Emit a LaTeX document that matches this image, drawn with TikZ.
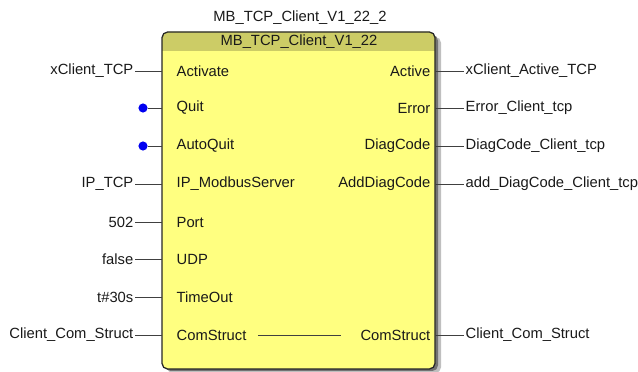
\documentclass[tikz,border=0pt]{standalone}
\usepackage{fontspec}
\setmainfont{Liberation Sans}
\usetikzlibrary{positioning}
\definecolor{fbbody}{HTML}{FFFF80}
\definecolor{fbhead}{HTML}{CCCC66}
\definecolor{pinblue}{HTML}{0000F0}

\begin{document}
\begin{tikzpicture}[x=0.025cm, y=-0.025cm,
    every node/.style={font=\fontsize{10.5}{12}\selectfont, text=black!90, inner sep=1pt},
    wire/.style={draw=black!75, line width=0.6pt},
    pindot/.style={circle, fill=pinblue, inner sep=0pt, minimum size=6.5pt}]
  \useasboundingbox (0,0) rectangle (638,372);

  % shadow of the block
  \fill[black!25, rounded corners=4pt] (167,37) rectangle (441,373);
  \fill[black!55, rounded corners=4pt] (165,35) rectangle (438,371);

  % block
  \fill[fbbody, rounded corners=4pt] (162,32) rectangle (435,369);
  \fill[fbhead] (162,51) [rounded corners=4pt] -- (162,32) -- (435,32) [sharp corners] -- (435,51) -- cycle;
  \draw[black!85, line width=0.9pt, rounded corners=4pt] (162,32) rectangle (435,369);

  % names
  \node (inst) at (300,18) {MB\_TCP\_Client\_V1\_22\_2};
  \node (ftype) at (299,42) {MB\_TCP\_Client\_V1\_22};

  % input pins
  \foreach \n/\y/\port in {1/71/Activate, 2/108/Quit, 3/146/AutoQuit, 4/184/IP\_ModbusServer,
      5/222/Port, 6/259/UDP, 7/297/TimeOut, 8/335/ComStruct} {
    \coordinate (in\n) at (162,\y);
    \node[anchor=west] (inp\n) at (175,\y) {\port};
  }
  % output pins
  \foreach \n/\y/\port in {1/71/Active, 2/108/Error, 3/146/DiagCode, 4/184/AddDiagCode, 8/335/ComStruct} {
    \coordinate (out\n) at (435,\y);
    \node[anchor=east] (outp\n) at (432,\y) {\port};
  }

  % actual inputs
  \foreach \n/\y/\val in {1/71/xClient\_TCP, 4/184/IP\_TCP, 5/222/502, 6/259/false,
      7/297/t\#30s, 8/335/Client\_Com\_Struct} {
    \node[anchor=east] (act\n) at (135,\y) {\val};
    \draw[wire] (act\n.east) -- (in\n);
  }
  \node[pindot] (dot2) at (143,108) {};
  \node[pindot] (dot3) at (143,146) {};
  \draw[wire] (dot2) -- (in2);
  \draw[wire] (dot3) -- (in3);

  % actual outputs
  \foreach \n/\y/\val in {1/71/xClient\_Active\_TCP, 2/108/Error\_Client\_tcp,
      3/146/DiagCode\_Client\_tcp, 4/184/add\_DiagCode\_Client\_tcp, 8/335/Client\_Com\_Struct} {
    \node[anchor=west] (res\n) at (464,\y) {\val};
    \draw[wire] (out\n) -- (res\n.west);
  }

  % in_out passes through
  \draw[wire, shorten <=7pt, shorten >=13pt] (inp8.east) -- (outp8.west);
\end{tikzpicture}
\end{document}
